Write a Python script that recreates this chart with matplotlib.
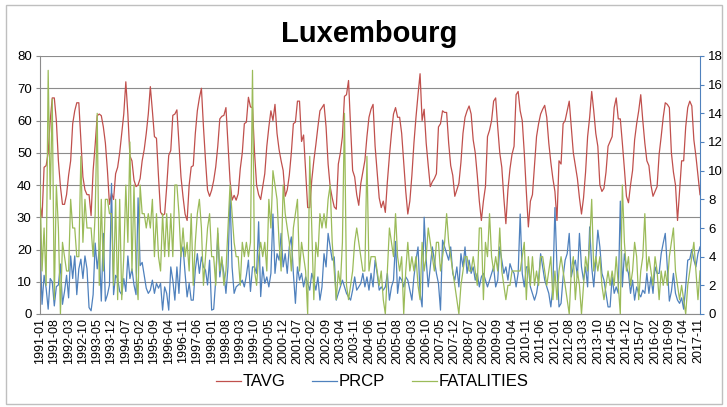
import numpy as np
import matplotlib
matplotlib.use("Agg")
import matplotlib.pyplot as plt
from matplotlib.patches import Rectangle

plt.rcParams['font.family'] = ['Liberation Sans', 'DejaVu Sans']

# monthly values, 1991-01 .. 2017-12
TAVG = [
    34, 30, 45.5, 46, 50, 60, 67, 67, 60, 47.5, 39.5, 34,
    34, 37, 43, 47.5, 59, 63, 65.5, 65.5, 54, 42.5, 38.5, 37,
    37, 30.5, 44.5, 52.5, 61.5, 62, 61.5, 58, 53, 44.5, 34, 37.5,
    35.5, 43.5, 45.5, 50, 56, 62, 72, 62, 49, 47.5, 41.5, 39.5,
    40, 42, 47.5, 51, 56, 62, 70.5, 63, 55, 54.5, 42.5, 31.6,
    30.6, 31, 39.4, 49.2, 50.7, 61.6, 62, 63.3, 52.8, 42.5, 36.3, 31,
    29, 40, 45.6, 46, 55.9, 63, 67, 70, 58, 47.6, 38.4, 36.5,
    38.4, 41.4, 45.6, 52, 60.5, 61.3, 61.6, 64, 52.8, 41.4, 35.3, 36.8,
    35.3, 37.3, 45, 50, 59, 59.5, 67.2, 64.2, 64, 50, 40, 37,
    35.5, 39.5, 43.5, 52, 58, 63, 60, 65, 56, 51, 47.5, 44.5,
    36.5, 38.5, 43, 50, 59, 59.5, 66, 66, 53.5, 55.5, 44.5, 33,
    33, 41.5, 47.5, 52.5, 58, 63, 64, 65, 58, 46.5, 39.5, 36,
    33.2, 32.5, 46.5, 50, 55, 67.5, 68, 72.4, 58, 44.5, 42.5, 37,
    33.7, 40.5, 44, 47.6, 55, 61, 63.5, 65, 52, 44, 36, 33,
    35, 31.5, 41, 49, 56, 62, 64, 61, 61, 56, 47, 38,
    31, 35, 43, 53, 61, 68, 74.5, 60, 63.5, 53, 46, 39.5,
    41, 42, 43.5, 58, 59, 63, 62.5, 62.5, 53, 46, 43, 36.5,
    38.5, 40.5, 47, 56, 61, 63, 64.5, 62, 54, 50, 43, 35,
    29, 35, 39.5, 55, 57, 60, 66, 67, 58, 50, 45.5, 36,
    28, 38.5, 45, 49.5, 52, 68, 69, 63, 60, 50, 38, 27,
    35, 37, 46, 55, 59, 62, 63.5, 64.7, 61, 53, 47, 42,
    38, 29, 47.5, 46.5, 59, 60, 63, 66, 58, 50, 46, 42,
    36, 31, 36, 44, 55, 61, 69, 63, 56, 52, 40, 38,
    39, 44, 52, 53.5, 55, 64, 67, 60.5, 60.5, 53, 45, 36.5,
    34.5, 40, 44.5, 54, 59, 63, 68, 60, 53, 47.5, 46, 40,
    36.5, 38, 39.5, 49.5, 55, 61, 65.5, 65, 64, 50, 44, 40,
    29, 38, 47.5, 47.5, 58, 64, 66, 64.5, 54, 49, 43, 37,
]

PRCP = [
    22, 3, 12, 8, 1.5, 11, 10, 2.5, 8.5, 9, 15.5, 3,
    7, 12, 5, 18, 11, 18, 6, 14, 17, 11, 18, 14,
    2, 1, 6, 22, 14, 20, 4, 25, 4, 6, 9, 40.5,
    6, 12, 11, 7, 6, 11, 7, 18, 11, 14, 9, 6,
    36, 15, 16, 12, 8, 6.4, 7.4, 10.5, 6.4, 9.5, 8, 9.5,
    1.2, 8.4, 6.4, 1.2, 14.6, 10.5, 4.3, 14.6, 6.4, 18.7, 20.8, 12.6,
    5.3, 9.5, 4.3, 4.3, 13.6, 18.7, 12.6, 17.7, 14.6, 13.6, 9, 16.7,
    1.2, 1.5, 10.5, 25, 11.5, 16.7, 12.6, 6.4, 14.6, 37.3, 14.6, 6.4,
    8.4, 9, 9.5, 10.5, 8.4, 12, 16.7, 7, 14.6, 14.6, 12.6, 28.6,
    5.4, 14.6, 9.5, 11.5, 8.4, 12.6, 31, 12.6, 18.7, 16.7, 25, 14.6,
    18.7, 12.6, 20.8, 23.9, 12.6, 3.3, 14.6, 10.5, 12.6, 8.4, 11.5, 9.5,
    7.4, 12.6, 10.5, 7.4, 11.5, 4.3, 8.4, 18.7, 14.6, 25, 20.8, 16.7,
    17.7, 4.3, 6.4, 8.4, 10.5, 8.4, 6.4, 5.3, 4.3, 7.4, 11.5, 7.4,
    8.4, 9.5, 12.6, 8.4, 11.5, 7.4, 12.6, 8.4, 16.7, 12.6, 7.4, 8.4,
    7.4, 8.4, 12.6, 4.3, 8.4, 10.5, 22.5, 6.4, 11.5, 10.5, 8.4, 11.5,
    10.5, 7.4, 4.3, 11.5, 16.7, 20.8, 6.4, 2.2, 30, 16.7, 8.4, 14.6,
    20.8, 16.7, 12.6, 9.5, 1.2, 22.9, 20.8, 18.7, 16.7, 20.8, 12.6, 10.5,
    14.6, 8.4, 18.7, 14.6, 20.8, 12.6, 16.7, 12.6, 14.6, 10.5, 12.6, 8.4,
    11.5, 12.6, 10.5, 8.4, 10.5, 12.6, 14.6, 8.4, 10.5, 20.8, 16.7, 12.6,
    14.6, 10.5, 15.6, 13.6, 12.6, 8.4, 12.6, 31, 12.6, 8.4, 14.6, 14.6,
    8.4, 6.4, 4.3, 6.4, 10.5, 18.7, 14.6, 10.5, 8.4, 6.4, 2.2, 8.4,
    33, 14.6, 2.2, 3.3, 11.5, 16.7, 18.7, 25, 11.5, 14.6, 16.7, 11.5,
    25, 14.6, 10.5, 14.6, 8.4, 27, 14.6, 8.4, 16.7, 26, 20.8, 12.6,
    10.5, 6.4, 2.2, 2.2, 11.5, 6.4, 8.4, 6.4, 35, 8.4, 18.7, 14.6,
    12.6, 6.4, 10.5, 4.3, 8.4, 6.4, 5.3, 7.4, 6.4, 12.6, 6.4, 11.5,
    6.4, 14.6, 12.6, 12.6, 18.7, 22, 25, 14.6, 4, 7, 12.6, 6.4,
    4.3, 3.3, 5, 1.5, 8.4, 16.7, 17, 20, 16.7, 14.6, 18.7, 20.8,
]

FATALITIES = [
    9, 3, 6, 2, 17, 8, 15, 1, 9, 6, 0, 5,
    4, 3, 3, 8, 6, 6, 4, 4, 11, 5, 8, 6,
    6, 6, 4, 7, 14, 2, 8, 3, 8, 8, 7, 7,
    2, 8, 1, 8, 1, 4, 9, 5, 12, 3, 9, 3,
    1, 9, 7, 7, 6, 7, 6, 8, 4, 7, 4, 3,
    7, 4, 7, 4, 7, 4, 9, 9, 7, 4, 6, 4,
    5, 3, 7, 2, 5, 7, 8, 6, 2, 4, 6, 7,
    4, 4, 2, 6, 3, 4, 2, 3, 6, 9, 7, 5,
    4, 4, 2, 5, 4, 5, 4, 5, 17, 3, 2, 4,
    5, 4, 5, 3, 8, 6, 10, 9, 8, 5, 3, 9,
    7, 6, 5, 3, 6, 7, 8, 3, 5, 4, 3, 0,
    11, 6, 1, 5, 4, 7, 6, 7, 6, 8, 9, 5,
    3, 1, 3, 2, 5, 14, 2, 1, 2, 3, 5, 6,
    5, 4, 3, 3, 11, 3, 4, 4, 4, 3, 2, 3,
    1, 0, 3, 6, 5, 4, 7, 4, 3, 4, 0, 3,
    5, 3, 4, 3, 4, 2, 1, 5, 3, 4, 6, 5,
    4, 3, 5, 5, 3, 4, 5, 7, 5, 4, 3, 2,
    1, 0, 2, 3, 4, 4, 3, 3, 4, 3, 2, 6,
    6, 1, 5, 4, 7, 4, 3, 4, 3, 6, 3, 2,
    1, 2, 2, 3, 3, 3, 3, 3, 4, 5, 1, 4,
    2, 4, 2, 3, 2, 4, 4, 3, 2, 3, 4, 1,
    3, 1, 3, 4, 3, 2, 1, 0, 3, 4, 1, 3,
    2, 0, 2, 4, 3, 5, 8, 3, 4, 3, 4, 2,
    1, 2, 3, 2, 3, 2, 4, 2, 0, 9, 5, 3,
    4, 2, 3, 5, 4, 1, 3, 4, 7, 3, 4, 3,
    2, 4, 3, 1, 3, 2, 3, 2, 4, 5, 6, 3,
    2, 1, 2, 1, 0, 2, 3, 4, 5, 3, 1, 3,
]

months = [f"{1991 + i // 12}-{i % 12 + 1:02d}" for i in range(len(TAVG))]
x = np.arange(len(months))

W, H = 727, 407
fig = plt.figure(figsize=(W / 100, H / 100), dpi=100)
ax = fig.add_axes([40 / W, 1 - 314 / H, 660 / W, (314 - 56) / H])
ax2 = ax.twinx()

grid_c = '#8C8C8C'
ax.plot(x, TAVG, color='#C0504D', lw=0.9, label='TAVG')
ax.plot(x, PRCP, color='#4F81BD', lw=0.9, label='PRCP')
ax2.plot(x, FATALITIES, color='#9BBB59', lw=0.9, label='FATALITIES')

ax.set_xlim(0, len(x) - 1)
ax.set_ylim(0, 80)
ax.set_yticks(range(0, 81, 10))
ax2.set_ylim(0, 18)
ax2.set_yticks(range(0, 19, 2))

ax.set_xticks(x[::7])
ax.set_xticklabels(months[::7], rotation=90, fontsize=9)
ax.tick_params(axis='x', length=0, pad=3)
ax.tick_params(axis='y', labelsize=9.5, length=3, color=grid_c, pad=3)
ax2.tick_params(axis='y', labelsize=9.5, length=3, color='#4F81BD', pad=3)

ax.grid(axis='y', color=grid_c, lw=0.8)
ax.set_axisbelow(True)
for s in ['top', 'right']:
    ax.spines[s].set_visible(False)
for s in ['top', 'left', 'bottom']:
    ax2.spines[s].set_visible(False)
ax.spines['left'].set_color(grid_c)
ax.spines['bottom'].set_color(grid_c)
ax2.spines['right'].set_color('#4F81BD')

fig.text(369.5 / W, 1 - 34 / H, 'Luxembourg', ha='center', va='center',
         fontsize=21, fontweight='bold')

h1, l1 = ax.get_legend_handles_labels()
h2, l2 = ax2.get_legend_handles_labels()
fig.legend(h1 + h2, l1 + l2, loc='center', bbox_to_anchor=(372 / W, 1 - 382 / H),
           ncol=3, frameon=False, fontsize=12, handlelength=1.5,
           handletextpad=0.1, columnspacing=1.6)

fig.patches.append(Rectangle((6 / W, 3 / H), 716 / W, 399 / H, transform=fig.transFigure,
                             fill=False, edgecolor='#BFBFBF', lw=1))

fig.savefig('out.png', dpi=100)
